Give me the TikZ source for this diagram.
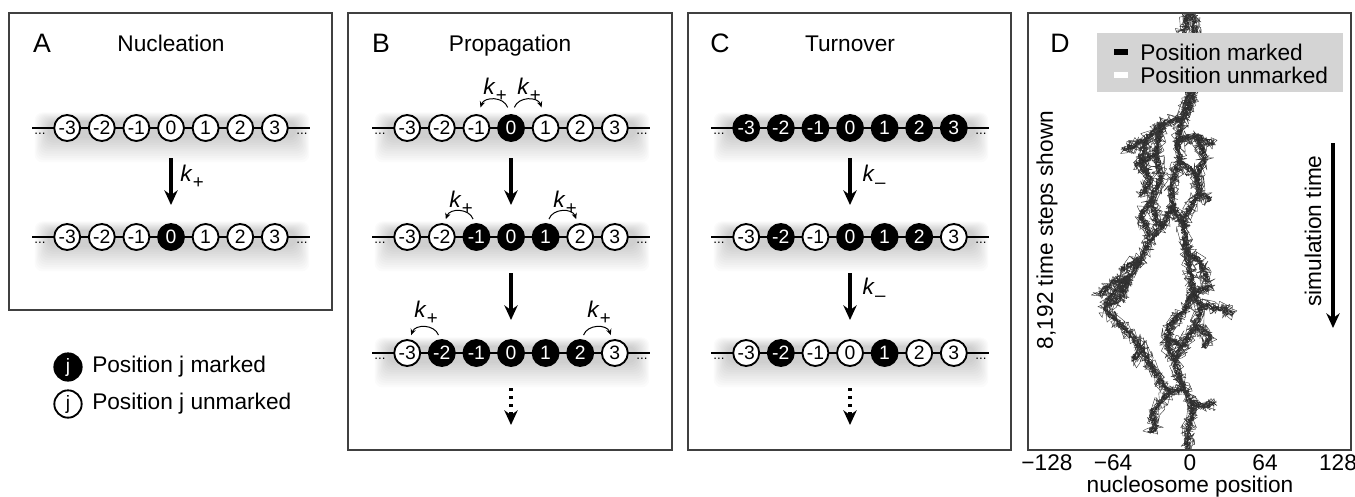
\documentclass[tikz,border=0pt]{standalone}
\usepackage{fontspec}
\setmainfont{Liberation Sans}
\usetikzlibrary{arrows.meta,decorations.pathmorphing}
\newcommand{\kp}{\textit{k}\kern0.2pt\raisebox{-0.32em}{\fontsize{14}{14}\selectfont +}}
\newcommand{\km}{\textit{k}\kern0.2pt\raisebox{-0.32em}{\fontsize{14}{14}\selectfont –}}
\tikzset{
  frame/.style={draw=black!75, line width=0.9pt},
  chainline/.style={line width=1.5pt, draw=black},
  um/.style={circle, draw=black, line width=1.4pt, fill=white, text=black, minimum size=19.5pt, inner sep=0pt, font=\fontsize{14.5}{14.5}\selectfont},
  mk/.style={um, fill=black, text=white},
  st/.code={\ifnum#1=1 \pgfkeysalso{/tikz/mk}\else\pgfkeysalso{/tikz/um}\fi},
  dotsnode/.style={inner sep=0pt, font=\fontsize{10}{10}\selectfont, text=black},
  bigarrow/.style={line width=2.5pt, -{Stealth[length=11pt,width=10pt]}},
  dotarrow/.style={bigarrow, dash pattern=on 2.2pt off 3.8pt},
  karc/.style={line width=0.75pt, -{Stealth[length=4.5pt,width=4pt]}},
  title/.style={font=\fontsize{17}{20}\selectfont, anchor=base, inner sep=0pt},
  plabel/.style={font=\fontsize{20}{24}\selectfont, anchor=base, inner sep=0pt},
  klabel/.style={font=\fontsize{17}{19}\selectfont, inner sep=0pt},
  txt/.style={font=\fontsize{17}{20}\selectfont, inner sep=0pt},
  walk/.style={decorate, decoration={random steps, segment length=1.2pt, amplitude=2.6pt}, line width=0.35pt, draw=black!85, line join=round},
  walkb/.style={decorate, decoration={random steps, segment length=2.4pt, amplitude=6pt}, line width=0.3pt, draw=black!80, line join=round},
}
\newcommand{\chainrow}[4]{%
  \foreach \r in {1,...,12}{\fill[black,opacity=0.016,rounded corners=6pt] ({#2-122-1.2*\r},{#3-6-0.8*\r}) rectangle ({#2+124+1.2*\r},{#3+8+2.2*\r});}
  \draw[chainline] (#2-139,#3) -- (#2+139,#3);
  \node[dotsnode] (#1dl) at (#2-131,#3+6) {...};
  \node[dotsnode] (#1dr) at (#2+131,#3+6) {...};
  \foreach \s [count=\k from -3] in {#4}{\node[st=\s] (#1n\k) at ({#2+34.6*\k},#3) {\k};}
}
\newcommand{\strands}[1]{%
  \draw[#1] (1188,13) -- (1184,30) -- (1191,50) -- (1186,72) -- (1189,95) -- (1183,118) -- (1177,140) -- (1180,162) -- (1171,185) -- (1173,205) -- (1164,224) -- (1150,240) -- (1142,258) -- (1129,278) -- (1113,294) -- (1104,308) -- (1115,320) -- (1128,332) -- (1141,347) -- (1150,364) -- (1159,380) -- (1170,392) -- (1184,389);
  \draw[#1] (1192,13) -- (1196,40) -- (1190,70) -- (1193,95) -- (1186,118);
  \draw[#1] (1173,205) -- (1184,226) -- (1186,250) -- (1190,272) -- (1193,292) -- (1201,306) -- (1196,326) -- (1184,344) -- (1174,360) -- (1179,377) -- (1186,392) -- (1193,410) -- (1188,430) -- (1187,450);
  \draw[#1] (1183,118) -- (1162,124) -- (1146,139) -- (1124,150);
  \draw[#1] (1162,124) -- (1156,152) -- (1161,178) -- (1151,200) -- (1157,222) -- (1164,224);
  \draw[#1] (1177,140) -- (1196,136) -- (1213,144);
  \draw[#1] (1180,162) -- (1196,174) -- (1199,194) -- (1186,214) -- (1184,226);
  \draw[#1] (1156,152) -- (1136,166);
  \draw[#1] (1146,139) -- (1140,160) -- (1150,180) -- (1141,196);
  \draw[#1] (1196,136) -- (1205,158) -- (1195,178);
  \draw[#1] (1151,200) -- (1141,214) -- (1150,236);
  \draw[#1] (1199,194) -- (1211,200);
  \draw[#1] (1201,306) -- (1218,308) -- (1233,314);
  \draw[#1] (1193,292) -- (1212,287);
  \draw[#1] (1186,250) -- (1200,262) -- (1208,282);
  \draw[#1] (1196,326) -- (1210,336) -- (1204,347);
  \draw[#1] (1184,344) -- (1167,340);
  \draw[#1] (1129,278) -- (1110,284) -- (1100,296);
  \draw[#1] (1142,258) -- (1121,270);
  \draw[#1] (1129,278) -- (1121,298) -- (1108,305);
  \draw[#1] (1170,392) -- (1160,403) -- (1151,414) -- (1156,425) -- (1150,433);
  \draw[#1] (1190,402) -- (1204,406) -- (1214,403);
  \draw[#1] (1193,292) -- (1184,312) -- (1170,324) -- (1166,342) -- (1174,360);
  \draw[#1] (1141,347) -- (1133,360);
}
\begin{document}
\begin{tikzpicture}[x=0.75pt,y=-0.75pt]
\pgfmathsetseed{42}
\useasboundingbox (0,0) rectangle (1355,496);
\fill[white] (0,0) rectangle (1355,496);

% ---------- Panel A ----------
\draw[frame] (9,13) rectangle (332,310);
\node[plabel] (Alab) at (42,52) {A};
\node[title] (Atit) at (171,51) {Nucleation};
\chainrow{Ar1}{171}{128}{0,0,0,0,0,0,0}
\chainrow{Ar2}{171}{237}{0,0,0,1,0,0,0}
\coordinate (Aa1s) at (171,158); \coordinate (Aa1e) at (171,205);
\draw[bigarrow] (Aa1s) -- (Aa1e);
\node[klabel] (Ak1) at (192,177) {\kp};
% legend
\node[mk, minimum size=20.5pt] (LgM) at (68,367) {j};
\node[um, minimum size=20.5pt] (LgU) at (68,404) {j};
\node[txt, anchor=west] (LgMt) at (92,367) {Position j marked};
\node[txt, anchor=west] (LgUt) at (92,404) {Position j unmarked};

% ---------- Panel B ----------
\draw[frame] (348,13) rectangle (672,450);
\node[plabel] (Blab) at (381,52) {B};
\node[title] (Btit) at (510,51) {Propagation};
\chainrow{Br1}{511}{128}{0,0,0,1,0,0,0}
\chainrow{Br2}{511}{237}{0,0,1,1,1,0,0}
\chainrow{Br3}{511}{353}{0,1,1,1,1,1,0}
\draw[karc] ([xshift=-2.5pt,yshift=5pt]Br1n0.north) .. controls +(-4,-11) and +(4,-11) .. ([xshift=3pt,yshift=5pt]Br1n-1.north);
\draw[karc] ([xshift=2.5pt,yshift=5pt]Br1n0.north) .. controls +(4,-11) and +(-4,-11) .. ([xshift=-3pt,yshift=5pt]Br1n1.north);
\node[klabel] (Bk1) at (495,90) {\kp};
\node[klabel] (Bk2) at (529,90) {\kp};
\draw[karc] ([xshift=-2.5pt,yshift=3pt]Br2n-1.north) .. controls +(-4,-11) and +(4,-11) .. ([xshift=3pt,yshift=3pt]Br2n-2.north);
\draw[karc] ([xshift=2.5pt,yshift=3pt]Br2n1.north) .. controls +(4,-11) and +(-4,-11) .. ([xshift=-3pt,yshift=3pt]Br2n2.north);
\node[klabel] (Bk3) at (461,203) {\kp};
\node[klabel] (Bk4) at (565,203) {\kp};
\draw[karc] ([xshift=-2.5pt,yshift=3pt]Br3n-2.north) .. controls +(-4,-11) and +(4,-11) .. ([xshift=3pt,yshift=3pt]Br3n-3.north);
\draw[karc] ([xshift=2.5pt,yshift=3pt]Br3n2.north) .. controls +(4,-11) and +(-4,-11) .. ([xshift=-3pt,yshift=3pt]Br3n3.north);
\node[klabel] (Bk5) at (426,313) {\kp};
\node[klabel] (Bk6) at (599,313) {\kp};
\coordinate (Ba1s) at (511,158); \coordinate (Ba1e) at (511,205);
\coordinate (Ba2s) at (511,273); \coordinate (Ba2e) at (511,320);
\coordinate (Ba3s) at (511,388); \coordinate (Ba3e) at (511,425);
\draw[bigarrow] (Ba1s) -- (Ba1e);
\draw[bigarrow] (Ba2s) -- (Ba2e);
\draw[dotarrow] (Ba3s) -- (Ba3e);

% ---------- Panel C ----------
\draw[frame] (688,13) rectangle (1011,450);
\node[plabel] (Clab) at (720,52) {C};
\node[title] (Ctit) at (850,51) {Turnover};
\chainrow{Cr1}{850}{128}{1,1,1,1,1,1,1}
\chainrow{Cr2}{850}{237}{0,1,0,1,1,1,0}
\chainrow{Cr3}{850}{353}{0,1,0,0,1,0,0}
\coordinate (Ca1s) at (850,158); \coordinate (Ca1e) at (850,205);
\coordinate (Ca2s) at (850,273); \coordinate (Ca2e) at (850,320);
\coordinate (Ca3s) at (850,388); \coordinate (Ca3e) at (850,425);
\draw[bigarrow] (Ca1s) -- (Ca1e);
\draw[bigarrow] (Ca2s) -- (Ca2e);
\draw[dotarrow] (Ca3s) -- (Ca3e);
\node[klabel] (Ck1) at (874,177) {\km};
\node[klabel] (Ck2) at (874,290) {\km};

% ---------- Panel D ----------
\begin{scope}
\clip (1028,13) rectangle (1351,450);
\foreach \pass in {1,...,6}{\strands{walk}}
\foreach \pass in {1,...,5}{\strands{walkb}}
\end{scope}
\draw[frame] (1028,13) rectangle (1351,450);
\node[plabel] (Dlab) at (1060,52) {D};
\node[fill=black!17, inner sep=0pt, minimum width=184.5pt, minimum height=44.25pt] (Dleg) at (1220,62.5) {};
\fill[black] (1114,49) rectangle (1128,55);
\fill[white] (1114,72) rectangle (1128,78);
\node[txt, anchor=west] (DlgM) at (1140,52) {Position marked};
\node[txt, anchor=west] (DlgU) at (1140,75) {Position unmarked};
\node[txt, rotate=90] (Dy) at (1047,230) {8,192 time steps shown};
\node[txt, rotate=90] (Dsim) at (1313,231) {simulation time};
\coordinate (Dts) at (1333,143); \coordinate (Dte) at (1333,328);
\draw[bigarrow, line width=2.6pt] (Dts) -- (Dte);
\node[txt, anchor=base] (Dx1) at (1047,470) {−128};
\node[txt, anchor=base] (Dx2) at (1113,470) {−64};
\node[txt, anchor=base] (Dx3) at (1190,470) {0};
\node[txt, anchor=base] (Dx4) at (1265,470) {64};
\node[txt, anchor=base] (Dx5) at (1338,470) {128};
\node[txt, anchor=base] (Dxl) at (1190,492) {nucleosome position};
\end{tikzpicture}
\end{document}
